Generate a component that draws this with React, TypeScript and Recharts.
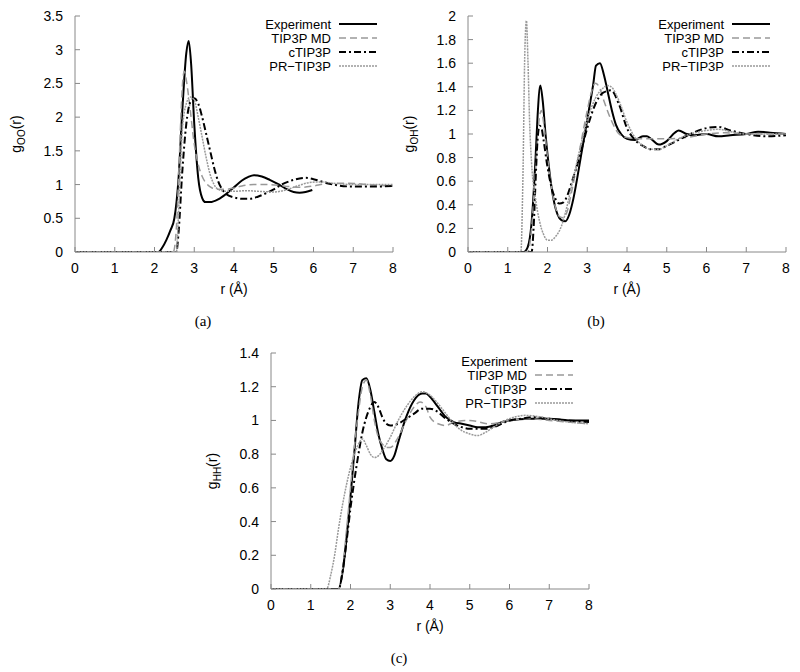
import React from 'react';
import { LineChart, Line, XAxis, YAxis } from 'recharts';

// ---------- axis ticks ----------
const rTicks = [0, 1, 2, 3, 4, 5, 6, 7, 8];
const ooTicks = [0, 0.5, 1, 1.5, 2, 2.5, 3, 3.5];
const ohTicks = [0, 0.2, 0.4, 0.6, 0.8, 1, 1.2, 1.4, 1.6, 1.8, 2];
const hhTicks = [0, 0.2, 0.4, 0.6, 0.8, 1, 1.2, 1.4];

const seriesNames = ['Experiment', 'TIP3P MD', 'cTIP3P', 'PR\u2212TIP3P'];

// ---------- (a) g_OO ----------
const expOO_r = [0, 2.1, 2.2, 2.3, 2.4, 2.5, 2.6, 2.7, 2.8, 2.86, 2.92, 3.0, 3.1, 3.2, 3.28, 3.4, 3.6, 3.8, 4.0, 4.2, 4.35, 4.5, 4.7, 4.9, 5.1, 5.3, 5.5, 5.65, 5.8, 5.97];
const expOO_g = [0, 0, 0.07, 0.18, 0.32, 0.5, 1.05, 2.1, 2.95, 3.13, 2.8, 1.9, 1.1, 0.8, 0.74, 0.74, 0.78, 0.86, 0.96, 1.06, 1.11, 1.14, 1.12, 1.07, 1.01, 0.94, 0.89, 0.88, 0.89, 0.92];
const tipOO_r = [0, 2.47, 2.55, 2.6, 2.65, 2.7, 2.75, 2.8, 2.9, 3.0, 3.1, 3.2, 3.3, 3.45, 3.6, 3.8, 4.0, 4.2, 4.5, 4.8, 5.1, 5.4, 5.7, 6.0, 6.3, 6.7, 7.2, 7.6, 8];
const tipOO_g = [0, 0, 0.35, 1.0, 1.8, 2.45, 2.68, 2.55, 2.1, 1.6, 1.3, 1.12, 1.02, 0.95, 0.93, 0.93, 0.95, 0.98, 1.0, 1.0, 0.99, 0.97, 0.96, 0.98, 1.01, 1.02, 1.01, 0.99, 0.98];
const cOO_r = [0, 2.55, 2.6, 2.7, 2.8, 2.9, 3.0, 3.1, 3.2, 3.3, 3.4, 3.5, 3.6, 3.7, 3.8, 4.0, 4.2, 4.4, 4.6, 4.8, 5.0, 5.2, 5.5, 5.8, 6.0, 6.3, 6.6, 7.0, 7.5, 8];
const cOO_g = [0, 0, 0.25, 1.2, 1.9, 2.22, 2.28, 2.2, 2.0, 1.75, 1.5, 1.25, 1.05, 0.93, 0.86, 0.81, 0.79, 0.79, 0.82, 0.87, 0.93, 1.0, 1.07, 1.1, 1.08, 1.03, 0.99, 0.97, 0.97, 0.98];
const prOO_r = [0, 2.55, 2.6, 2.65, 2.7, 2.8, 2.9, 3.0, 3.1, 3.2, 3.3, 3.4, 3.5, 3.6, 3.8, 4.0, 4.3, 4.6, 5.0, 5.3, 5.6, 5.9, 6.2, 6.5, 7.0, 8];
const prOO_g = [0, 0, 0.5, 1.2, 1.8, 2.2, 2.3, 2.25, 2.0, 1.7, 1.4, 1.15, 1.0, 0.93, 0.9, 0.9, 0.91, 0.9, 0.89, 0.92, 0.98, 1.03, 1.04, 1.02, 1.0, 1.0];

// ---------- (b) g_OH ----------
const expOH_r = [0, 1.4, 1.5, 1.6, 1.7, 1.75, 1.82, 1.88, 1.95, 2.05, 2.15, 2.25, 2.35, 2.45, 2.55, 2.65, 2.75, 2.85, 2.95, 3.05, 3.15, 3.22, 3.32, 3.42, 3.52, 3.62, 3.72, 3.85, 4.0, 4.2, 4.4, 4.5, 4.6, 4.8, 5.0, 5.2, 5.3, 5.5, 5.7, 6.0, 6.3, 6.6, 7.0, 7.3, 7.6, 8];
const expOH_g = [0, 0, 0.04, 0.25, 0.8, 1.15, 1.41, 1.28, 1.0, 0.68, 0.45, 0.32, 0.27, 0.26, 0.32, 0.45, 0.63, 0.83, 1.02, 1.22, 1.42, 1.58, 1.6, 1.5, 1.35, 1.2, 1.08, 1.0, 0.96, 0.95, 0.98, 0.98, 0.96, 0.91, 0.94, 1.01, 1.03, 1.0, 0.99, 1.0, 0.98, 0.99, 1.0, 1.02, 1.01, 1.0];
const tipOH_r = [0, 1.5, 1.6, 1.7, 1.8, 1.85, 1.9, 2.0, 2.1, 2.2, 2.3, 2.4, 2.5, 2.6, 2.8, 3.0, 3.1, 3.2, 3.3, 3.4, 3.6, 3.8, 4.0, 4.3, 5.0, 5.5, 6.0, 6.5, 7.0, 8];
const tipOH_g = [0, 0, 0.2, 0.7, 1.15, 1.2, 1.1, 0.8, 0.55, 0.38, 0.3, 0.29, 0.35, 0.5, 0.85, 1.2, 1.35, 1.43, 1.4, 1.3, 1.12, 1.0, 0.97, 0.96, 0.96, 0.97, 1.0, 1.01, 1.0, 1.0];
const cOH_r = [0, 1.6, 1.65, 1.7, 1.75, 1.8, 1.85, 1.9, 2.0, 2.1, 2.2, 2.3, 2.4, 2.5, 2.6, 2.8, 3.0, 3.2, 3.4, 3.6, 3.8, 4.0, 4.2, 4.4, 4.6, 4.8, 5.0, 5.3, 5.6, 6.0, 6.3, 6.6, 7.0, 7.5, 8];
const cOH_g = [0, 0, 0.2, 0.6, 0.95, 1.07, 1.05, 0.95, 0.72, 0.55, 0.45, 0.41, 0.42, 0.48, 0.58, 0.8, 1.05, 1.25, 1.35, 1.37, 1.25, 1.05, 0.95, 0.9, 0.87, 0.87, 0.9, 0.95, 1.0, 1.05, 1.06, 1.03, 1.0, 0.98, 0.99];
const prOH_r = [0, 1.33, 1.38, 1.43, 1.47, 1.51, 1.55, 1.6, 1.7, 1.8, 1.9, 2.0, 2.1, 2.2, 2.3, 2.4, 2.5, 2.6, 2.8, 3.0, 3.2, 3.4, 3.5, 3.6, 3.8, 4.0, 4.2, 4.4, 4.6, 4.8, 5.0, 5.3, 5.6, 6.0, 6.3, 6.6, 7.0, 8];
const prOH_g = [0, 0, 0.6, 1.7, 1.96, 1.6, 1.1, 0.75, 0.45, 0.26, 0.15, 0.1, 0.1, 0.13, 0.18, 0.27, 0.4, 0.55, 0.85, 1.12, 1.3, 1.39, 1.41, 1.4, 1.28, 1.1, 0.97, 0.9, 0.87, 0.87, 0.9, 0.96, 1.0, 1.03, 1.04, 1.02, 1.0, 1.0];

// ---------- (c) g_HH ----------
const expHH_r = [0, 1.7, 1.8, 1.9, 2.0, 2.1, 2.2, 2.3, 2.4, 2.5, 2.6, 2.7, 2.8, 2.9, 3.0, 3.1, 3.2, 3.4, 3.6, 3.8, 3.9, 4.0, 4.2, 4.4, 4.6, 4.8, 5.0, 5.2, 5.4, 5.6, 5.8, 6.0, 6.5, 7.0, 7.5, 8];
const expHH_g = [0, 0, 0.1, 0.3, 0.55, 0.82, 1.1, 1.24, 1.25, 1.18, 1.05, 0.92, 0.83, 0.77, 0.76, 0.79, 0.87, 1.02, 1.12, 1.16, 1.16, 1.14, 1.08, 1.02, 0.99, 0.98, 0.97, 0.96, 0.96, 0.97, 0.99, 1.0, 1.01, 1.01, 1.0, 1.0];
const tipHH_r = [0, 1.7, 1.8, 1.9, 2.0, 2.1, 2.2, 2.3, 2.4, 2.5, 2.6, 2.7, 2.8, 2.9, 3.0, 3.2, 3.4, 3.6, 3.75, 3.9, 4.0, 4.2, 4.4, 4.6, 5.0, 5.5, 6.0, 6.5, 7.0, 8];
const tipHH_g = [0, 0, 0.12, 0.35, 0.6, 0.85, 1.05, 1.2, 1.24, 1.15, 1.0, 0.9, 0.86, 0.84, 0.84, 0.9, 1.0, 1.08, 1.11, 1.08, 1.02, 0.98, 0.97, 0.99, 1.0, 0.98, 1.0, 1.01, 1.0, 0.98];
const cHH_r = [0, 1.7, 1.8, 1.9, 2.0, 2.1, 2.2, 2.3, 2.4, 2.5, 2.6, 2.7, 2.8, 2.9, 3.0, 3.2, 3.4, 3.6, 3.8, 4.0, 4.2, 4.4, 4.6, 4.8, 5.0, 5.2, 5.4, 5.6, 5.8, 6.0, 6.3, 6.6, 7.0, 8];
const cHH_g = [0, 0, 0.1, 0.28, 0.48, 0.65, 0.8, 0.93, 1.02, 1.08, 1.11, 1.08, 1.02, 0.98, 0.97, 0.98, 1.01, 1.04, 1.07, 1.07, 1.05, 1.01, 0.98, 0.96, 0.95, 0.95, 0.95, 0.96, 0.98, 1.0, 1.01, 1.02, 1.01, 0.99];
const prHH_r = [0, 1.4, 1.5, 1.6, 1.7, 1.8, 1.9, 2.0, 2.1, 2.2, 2.3, 2.4, 2.5, 2.6, 2.7, 2.8, 3.0, 3.2, 3.4, 3.6, 3.8, 4.0, 4.2, 4.4, 4.6, 4.8, 5.0, 5.2, 5.4, 5.6, 5.8, 6.0, 6.4, 6.8, 7.2, 8];
const prHH_g = [0, 0, 0.08, 0.2, 0.36, 0.5, 0.62, 0.72, 0.8, 0.86, 0.89, 0.85, 0.8, 0.78, 0.79, 0.82, 0.9, 1.0, 1.08, 1.14, 1.17, 1.15, 1.1, 1.04, 0.98, 0.94, 0.92, 0.91, 0.93, 0.96, 0.99, 1.01, 1.03, 1.02, 1.0, 0.98];

const zip = (rs: number[], gs: number[]) => rs.map((r, i) => ({ r, g: gs[i] }));

const styles = [
  { stroke: '#000', strokeWidth: 2, dash: undefined as string | undefined },
  { stroke: '#999', strokeWidth: 1.5, dash: '7 4' },
  { stroke: '#000', strokeWidth: 2, dash: '7 3 2 3' },
  { stroke: '#999', strokeWidth: 1.5, dash: '2 1' },
];

const FONT = '"Liberation Sans", Arial, Helvetica, sans-serif';
const AX = '#888';

type PanelProps = {
  left: number; top: number;
  series: { r: number; g: number }[][];
  yTicks: number[]; yMax: number;
  sub: string; caption: string;
};

const W = 400, H = 336;
const PL = 75, PT = 16, PW = 318, PH = 236;

function Panel({ left, top, series, yTicks, yMax, sub, caption }: PanelProps) {
  const tickStyle = { fill: '#000', fontSize: 14, fontFamily: FONT };
  return (
    <div style={{ position: 'absolute', left, top, width: W, height: H }}>
      <LineChart width={W} height={H} margin={{ top: PT, right: W - PL - PW, left: 0, bottom: 0 }}>
        <XAxis xAxisId="b" dataKey="r" type="number" domain={[0, 8]} ticks={rTicks} interval={0}
          allowDataOverflow height={H - PT - PH} stroke={AX} tickSize={-5} tickMargin={16}
          tick={tickStyle}
          label={{ value: 'r (\u00C5)', position: 'insideBottom', offset: 42, fill: '#000', fontSize: 14, fontFamily: FONT }} />
        <XAxis xAxisId="t" orientation="top" dataKey="r" type="number" domain={[0, 8]} ticks={rTicks}
          interval={0} allowDataOverflow height={0} stroke={AX} tickSize={-5} tickFormatter={() => ''} />
        <YAxis yAxisId="l" type="number" domain={[0, yMax]} ticks={yTicks} interval={0} allowDataOverflow
          width={PL} stroke={AX} tickSize={-5} tickMargin={17} tick={tickStyle} />
        <YAxis yAxisId="rt" orientation="right" type="number" domain={[0, yMax]} ticks={yTicks} interval={0}
          allowDataOverflow width={0} stroke={AX} tickSize={-5} tickFormatter={() => ''} />
        {series.map((d, i) => (
          <Line key={i} xAxisId="b" yAxisId="l" data={d} dataKey="g" name={seriesNames[i]} type="monotone"
            stroke={styles[i].stroke} strokeWidth={styles[i].strokeWidth} strokeDasharray={styles[i].dash}
            dot={false} activeDot={false} isAnimationActive={false} />
        ))}
      </LineChart>
      {/* y label */}
      <div style={{ position: 'absolute', left: PL - 58, top: PT + PH / 2, transform: 'translate(-50%,-50%) rotate(-90deg)',
        whiteSpace: 'nowrap', fontFamily: FONT, fontSize: 14, color: '#000', lineHeight: '16px' }}>
        g<span style={{ fontSize: 10, position: 'relative', top: 4 }}>{sub}</span>(r)
      </div>
      {/* legend */}
      <svg style={{ position: 'absolute', left: PL + PW - 140, top: PT }} width={140} height={64}>
        {seriesNames.map((n, i) => (
          <g key={n}>
            <text x={78} y={8 + i * 14 + 4.5} textAnchor="end" fontFamily={FONT} fontSize={13} fill="#000">{n}</text>
            <line x1={86} x2={124} y1={8 + i * 14} y2={8 + i * 14} stroke={styles[i].stroke}
              strokeWidth={styles[i].strokeWidth} strokeDasharray={styles[i].dash} />
          </g>
        ))}
      </svg>
      {/* caption */}
      <div style={{ position: 'absolute', left: PL + 128, top: 321, transform: 'translate(-50%,-50%)',
        fontFamily: '"Liberation Serif", "Times New Roman", serif', fontSize: 15, color: '#000' }}>{caption}</div>
    </div>
  );
}

export default function App() {
  return (
    <div style={{ position: 'absolute', left: 0, top: 0, width: 800, height: 672, background: '#fff' }}>
      <Panel left={0} top={0} yTicks={ooTicks} yMax={3.5} sub="OO" caption="(a)"
        series={[zip(expOO_r, expOO_g), zip(tipOO_r, tipOO_g), zip(cOO_r, cOO_g), zip(prOO_r, prOO_g)]} />
      <Panel left={393} top={0} yTicks={ohTicks} yMax={2} sub="OH" caption="(b)"
        series={[zip(expOH_r, expOH_g), zip(tipOH_r, tipOH_g), zip(cOH_r, cOH_g), zip(prOH_r, prOH_g)]} />
      <Panel left={196} top={337} yTicks={hhTicks} yMax={1.4} sub="HH" caption="(c)"
        series={[zip(expHH_r, expHH_g), zip(tipHH_r, tipHH_g), zip(cHH_r, cHH_g), zip(prHH_r, prHH_g)]} />
    </div>
  );
}
